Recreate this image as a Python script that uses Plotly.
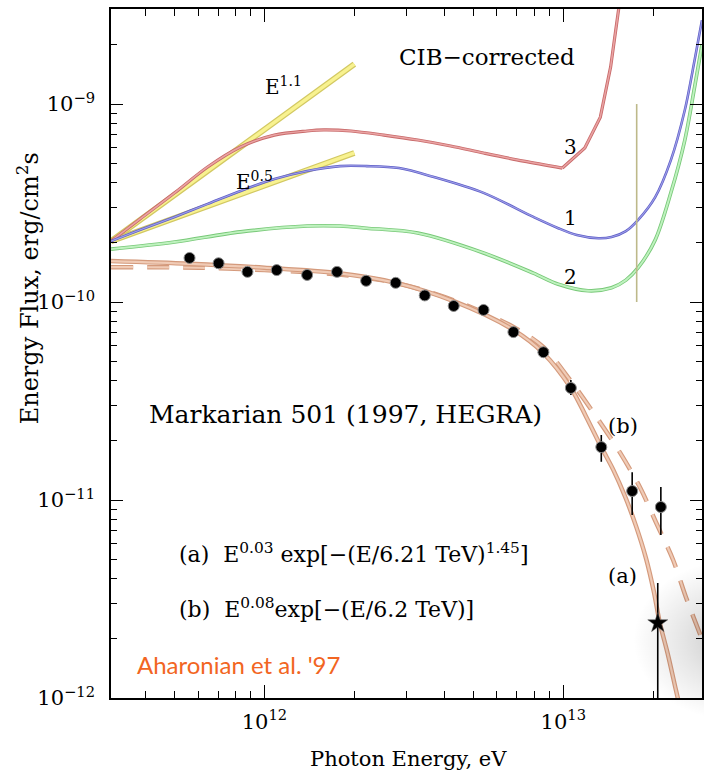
import base64
import plotly.graph_objects as go

# ---------------- data ----------------
# HEGRA Mkn 501 points: photon energy (eV), energy flux (erg/cm2 s)
E_pts = [5.62e11, 7.03e11, 8.78e11, 1.10e12, 1.39e12, 1.75e12, 2.19e12, 2.75e12,
         3.44e12, 4.30e12, 5.41e12, 6.81e12, 8.58e12, 1.06e13, 1.34e13, 1.70e13, 2.12e13]
F_pts = [1.67e-10, 1.57e-10, 1.42e-10, 1.45e-10, 1.37e-10, 1.42e-10, 1.28e-10, 1.25e-10,
         1.08e-10, 9.55e-11, 9.12e-11, 7.05e-11, 5.58e-11, 3.68e-11, 1.85e-11, 1.11e-11, 9.22e-12]
F_err_plus = [0, 0, 0, 0, 0, 0, 0, 0, 0, 0, 0, 0, 0, 3.6e-12, 2.8e-12, 2.7e-12, 2.4e-12]
F_err_minus = [0, 0, 0, 0, 0, 0, 0, 0, 0, 0, 0, 0, 0, 2.9e-12, 2.9e-12, 2.71e-12, 2.57e-12]

# star point
E_star = [2.07e13]
F_star = [2.39e-12]
F_star_plus = [1.42e-12]
F_star_minus = [2.29e-12]

# fit (a): E^0.03 exp[-(E/6.21 TeV)^1.45]
E_fit_a = [3.07e11, 5.62e11, 1.00e12, 1.75e12, 2.75e12, 4.30e12, 6.81e12, 8.57e12, 1.06e13,
           1.19e13, 1.34e13, 1.47e13, 1.61e13, 1.75e13, 1.89e13, 2.01e13, 2.10e13, 2.24e13,
           2.38e13, 2.49e13]
F_fit_a = [1.61e-10, 1.56e-10, 1.49e-10, 1.40e-10, 1.25e-10, 1.01e-10, 7.23e-11, 5.52e-11, 3.68e-11,
           2.65e-11, 1.85e-11, 1.42e-11, 1.04e-11, 7.40e-12, 5.09e-12, 3.43e-12, 2.42e-12, 1.65e-12,
           1.10e-12, 8.2e-13]

# fit (b): E^0.08 exp[-(E/6.2 TeV)]
E_fit_b = [3.07e11, 6.07e11, 1.00e12, 1.75e12, 2.75e12, 4.30e12, 6.81e12, 8.57e12, 1.06e13,
           1.31e13, 1.55e13, 1.81e13, 2.04e13, 2.33e13, 2.57e13, 2.90e13]
F_fit_b = [1.50e-10, 1.49e-10, 1.45e-10, 1.38e-10, 1.25e-10, 1.02e-10, 7.48e-11, 5.93e-11, 3.99e-11,
           2.54e-11, 1.73e-11, 1.15e-11, 7.74e-12, 4.98e-12, 3.24e-12, 2.01e-12]

# CIB-corrected spectra 1, 2, 3
E_c3 = [3.07e11, 3.83e11, 5.01e11, 6.46e11, 8.32e11, 1.08e12, 1.39e12, 1.58e12, 1.95e12, 2.51e12,
        3.26e12, 4.20e12, 5.41e12, 7.36e12, 9.93e12, 1.18e13, 1.33e13, 1.44e13, 1.54e13]
F_c3 = [2.03e-10, 2.62e-10, 3.56e-10, 4.81e-10, 6.07e-10, 6.97e-10, 7.31e-10, 7.40e-10, 7.31e-10, 6.97e-10,
        6.58e-10, 6.14e-10, 5.66e-10, 5.15e-10, 4.75e-10, 6.00e-10, 8.59e-10, 1.54e-9, 3.20e-9]
C3_KINK = 14  # index of the minimum where curve 3 turns sharply

E_c1 = [3.07e11, 3.83e11, 5.01e11, 6.46e11, 8.32e11, 1.08e12, 1.39e12, 1.79e12, 2.20e12, 2.82e12,
        3.69e12, 5.41e12, 7.94e12, 9.62e12, 1.11e13, 1.31e13, 1.45e13, 1.62e13, 1.78e13, 2.03e13,
        2.29e13, 2.55e13, 2.75e13, 2.91e13]
F_c1 = [2.03e-10, 2.31e-10, 2.69e-10, 3.13e-10, 3.64e-10, 4.18e-10, 4.59e-10, 4.86e-10, 4.86e-10, 4.75e-10,
        4.28e-10, 3.56e-10, 2.69e-10, 2.36e-10, 2.18e-10, 2.10e-10, 2.13e-10, 2.28e-10, 2.60e-10, 3.39e-10,
        5.21e-10, 9.33e-10, 1.67e-9, 2.65e-9]

E_c2 = [3.07e11, 5.01e11, 8.32e11, 1.39e12, 1.79e12, 2.20e12, 3.26e12, 5.41e12, 7.94e12, 9.62e12,
        1.21e13, 1.45e13, 1.62e13, 1.78e13, 2.03e13, 2.29e13, 2.55e13, 2.75e13, 2.91e13]
F_c2 = [1.85e-10, 2.01e-10, 2.26e-10, 2.42e-10, 2.42e-10, 2.36e-10, 2.23e-10, 1.77e-10, 1.40e-10, 1.23e-10,
        1.14e-10, 1.18e-10, 1.29e-10, 1.49e-10, 2.06e-10, 3.56e-10, 6.58e-10, 1.22e-9, 1.99e-9]

# power-law guides
E_guide = [3.07e11, 2.0e12]
F_guide_11 = [2.03e-10, 1.59e-9]
F_guide_05 = [2.03e-10, 5.66e-10]

# vertical marker
E_vline = [1.76e13, 1.76e13]
F_vline = [1.0e-10, 1.0e-9]

# axis ticks
x_major = [1e12, 1e13]
x_major_text = ["10<sup>12</sup>", "10<sup>13</sup>"]
y_major = [1e-12, 1e-11, 1e-10, 1e-9]
y_major_text = ["10<sup>−12</sup>", "10<sup>−11</sup>", "10<sup>−10</sup>", "10<sup>−9</sup>"]
x_minor = [3e11, 4e11, 5e11, 6e11, 7e11, 8e11, 9e11, 2e12, 3e12, 4e12, 5e12, 6e12, 7e12, 8e12, 9e12, 2e13]
y_minor = [m * 10.0 ** d for d in (-12, -11, -10, -9) for m in (2, 3, 4, 5, 6, 7, 8, 9)]

# ---------------- figure ----------------
fig = go.Figure()


def line(x, y, color, width, dash="solid", shape="linear"):
    fig.add_trace(go.Scatter(x=x, y=y, mode="lines",
                             line=dict(color=color, width=width, dash=dash, shape=shape, smoothing=0.9),
                             hoverinfo="skip", showlegend=False))


# power-law guides (outlined yellow)
for fy in (F_guide_11, F_guide_05):
    line(E_guide, fy, "#d2c862", 6)
    line(E_guide, fy, "#f8f290", 3.4)

# CIB-corrected curves
for sl, shp in ((slice(0, C3_KINK + 1), "spline"), (slice(C3_KINK, None), "linear")):
    line(E_c3[sl], F_c3[sl], "#c86a6a", 3.2, shape=shp)
    line(E_c3[sl], F_c3[sl], "#eaa4a4", 1.5, shape=shp)
line(E_c1, F_c1, "#5f5fc8", 2.6, shape="spline")
line(E_c1, F_c1, "#a0a0e8", 1.1, shape="spline")
line(E_c2, F_c2, "#78c878", 3.6, shape="spline")
line(E_c2, F_c2, "#bff2bf", 1.9, shape="spline")

# vertical marker
line(E_vline, F_vline, "#bdb98a", 1.6)

# fits
line(E_fit_b, F_fit_b, "#d49a7c", 4.5, dash="22px,14px", shape="spline")
line(E_fit_b, F_fit_b, "#f0cbb6", 2.2, dash="22px,14px", shape="spline")
line(E_fit_a, F_fit_a, "#d49a7c", 4.5, shape="spline")
line(E_fit_a, F_fit_a, "#f0cbb6", 2.2, shape="spline")

# data points
fig.add_trace(go.Scatter(
    x=E_pts, y=F_pts, mode="markers",
    marker=dict(symbol="circle", size=11, color="black", line=dict(color="#8a8a8a", width=1)),
    error_y=dict(type="data", symmetric=False, array=F_err_plus, arrayminus=F_err_minus,
                 color="black", thickness=1.6, width=0),
    hoverinfo="skip", showlegend=False))
fig.add_trace(go.Scatter(
    x=E_star, y=F_star, mode="markers",
    marker=dict(symbol="star", size=15, color="black", line=dict(color="#555", width=0.5)),
    error_y=dict(type="data", symmetric=False, array=F_star_plus, arrayminus=F_star_minus,
                 color="black", thickness=1.6, width=0),
    hoverinfo="skip", showlegend=False))

serif = "DejaVu Serif"


def note(text, x, y, size, xanchor="center", color="black", family=serif, angle=0):
    fig.add_annotation(text=text, x=x, y=y, xref="paper", yref="paper", xanchor=xanchor,
                       yanchor="middle", showarrow=False, textangle=angle,
                       font=dict(family=family, size=size, color=color))


note("CIB−corrected", 0.636, 0.930, 23)
note("E<sup>1.1</sup>", 0.292, 0.888, 20)
note("E<sup>0.5</sup>", 0.243, 0.750, 20)
note("3", 0.777, 0.800, 20)
note("1", 0.777, 0.697, 20)
note("2", 0.777, 0.611, 20)
note("Markarian 501 (1997, HEGRA)", 0.396, 0.412, 25)
note("(a)  E<sup>0.03</sup> exp[−(E/6.21 TeV)<sup>1.45</sup>]", 0.111, 0.2105, 22, xanchor="left")
note("(b)  E<sup>0.08</sup>exp[−(E/6.2 TeV)]", 0.111, 0.1306, 22, xanchor="left")
note("(b)", 0.867, 0.395, 21)
note("(a)", 0.865, 0.177, 21)
note("Aharonian et al. '97", 0.0405, 0.0493, 24, xanchor="left", color="#f26522", family="Lato")
note("Energy Flux, erg/cm<sup>2</sup>s", -0.140, 0.595, 24, angle=-90)
note("Photon Energy, eV", 0.504, -0.089, 21)

# soft grey shadow at the lower right (slide artefact)
svg = ("<svg xmlns='http://www.w3.org/2000/svg' width='200' height='200'>"
       "<defs><radialGradient id='g' cx='0.5' cy='0.5' r='0.5'>"
       "<stop offset='0' stop-color='#000' stop-opacity='0.22'/>"
       "<stop offset='0.5' stop-color='#000' stop-opacity='0.10'/>"
       "<stop offset='1' stop-color='#000' stop-opacity='0'/>"
       "</radialGradient></defs>"
       "<rect width='200' height='200' fill='url(#g)'/></svg>")
fig.add_layout_image(source="data:image/svg+xml;base64," + base64.b64encode(svg.encode()).decode(),
                     xref="paper", yref="paper", x=0.884, y=0.200, sizex=0.337, sizey=0.232,
                     sizing="stretch", xanchor="left", yanchor="top", layer="above")

axis_common = dict(showgrid=False, zeroline=False, showline=True, linecolor="black", linewidth=1.5,
                   mirror="ticks", ticks="inside", tickcolor="black", tickwidth=1.3,
                   tickfont=dict(family=serif, size=21, color="black"))

fig.update_xaxes(type="log", range=[11.487, 13.464], tickvals=x_major, ticktext=x_major_text,
                 ticklen=13, ticklabelstandoff=4,
                 minor=dict(tickvals=x_minor, ticks="inside", ticklen=7, tickcolor="black", tickwidth=1.2),
                 **axis_common)
fig.update_yaxes(type="log", range=[-12.0, -8.520], tickvals=y_major, ticktext=y_major_text,
                 ticklen=12, ticklabelstandoff=10,
                 minor=dict(tickvals=y_minor, ticks="inside", ticklen=6, tickcolor="black", tickwidth=1.2),
                 **axis_common)

fig.update_layout(width=704, height=773, margin=dict(l=111, r=0, t=9, b=75),
                  paper_bgcolor="white", plot_bgcolor="white")

# remove the default page margin so the 704x773 figure fills the window exactly
fig.write_html("out.html", config={"displayModeBar": False},
               post_script="document.body.style.margin='0';document.body.style.overflow='hidden';")
